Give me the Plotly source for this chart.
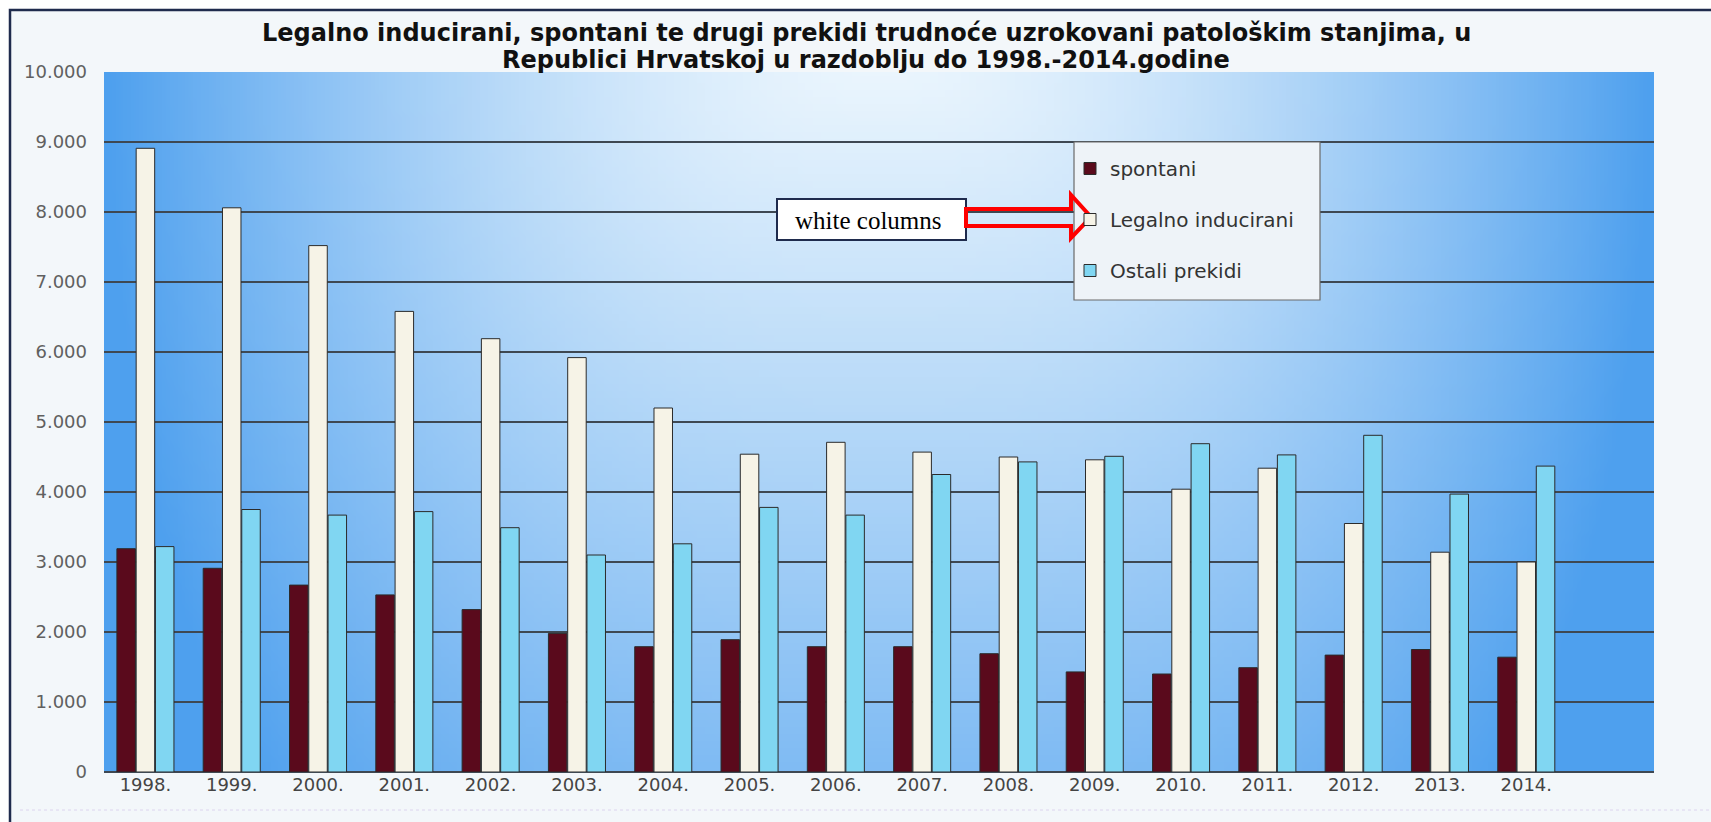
import base64
import struct
import zlib
import plotly.graph_objects as go

# ---------------- data ----------------
years = ["1998.", "1999.", "2000.", "2001.", "2002.", "2003.", "2004.", "2005.", "2006.",
         "2007.", "2008.", "2009.", "2010.", "2011.", "2012.", "2013.", "2014."]
spontani = [3190, 2910, 2670, 2530, 2320, 1980, 1790, 1890, 1790,
            1790, 1690, 1430, 1400, 1490, 1670, 1750, 1640]
legalno = [8910, 8060, 7520, 6580, 6190, 5920, 5200, 4540, 4710,
           4570, 4500, 4460, 4040, 4340, 3550, 3140, 3000]
ostali = [3220, 3750, 3670, 3720, 3490, 3100, 3260, 3780, 3670,
          4250, 4430, 4510, 4690, 4530, 4810, 3970, 4370]
series_names = ["spontani", "Legalno inducirani", "Ostali prekidi"]
title_lines = ["Legalno inducirani, spontani te drugi prekidi trudnoće uzrokovani patološkim stanjima, u",
               "Republici Hrvatskoj u razdoblju do 1998.-2014.godine"]
note_text = "white columns"

# ---------------- geometry helpers (pixel -> paper) ----------------
W, H = 1711, 822
PL, PR, PT, PB = 104, 1654, 72, 772


def px(x):
    return (x - PL) / (PR - PL)


def py(y):
    return (PB - y) / (PB - PT)


# ---------------- gradient background image ----------------
def gradient_uri(w=200, h=100):
    light = (234, 245, 253)
    dark = (78, 160, 238)
    rows = []
    for j in range(h):
        v = j / (h - 1)
        row = bytearray([0])
        for i in range(w):
            u = abs(i / (w - 1) - 0.5) / 0.5
            t = min(1.0, ((u ** 1.6) ** 2 + (0.68 * v) ** 2) ** 0.5)
            row += bytes(int(round(light[k] + (dark[k] - light[k]) * t)) for k in range(3))
        rows.append(bytes(row))
    raw = b"".join(rows)

    def chunk(tag, data):
        return (struct.pack(">I", len(data)) + tag + data +
                struct.pack(">I", zlib.crc32(tag + data) & 0xffffffff))

    png = (b"\x89PNG\r\n\x1a\n" +
           chunk(b"IHDR", struct.pack(">IIBBBBB", w, h, 8, 2, 0, 0, 0)) +
           chunk(b"IDAT", zlib.compress(raw, 9)) +
           chunk(b"IEND", b""))
    return "data:image/png;base64," + base64.b64encode(png).decode()


# ---------------- figure ----------------
colors = ["#5a0a1c", "#f6f3e7", "#80d6f2"]
values = [spontani, legalno, ostali]

fig = go.Figure()
for name, vals, col in zip(series_names, values, colors):
    fig.add_trace(go.Bar(
        x=years, y=vals, name=name, legendgroup=name,
        marker=dict(color=col, line=dict(color="#2b2b2b", width=1)),
    ))

font_sans = "DejaVu Sans"

fig.update_layout(
    width=W, height=H,
    margin=dict(l=PL, r=W - PR, t=PT, b=H - PB, pad=0),
    paper_bgcolor="#f3f7fa",
    plot_bgcolor="rgba(0,0,0,0)",
    separators=",.",
    barmode="group",
    bargap=0.33,
    bargroupgap=0.04,
    showlegend=True,
    legend=dict(
        x=px(1070), y=py(149), xanchor="left", yanchor="top",
        bgcolor="rgba(0,0,0,0)", borderwidth=0,
        font=dict(family=font_sans, size=20, color="#333333"),
        traceorder="grouped", tracegroupgap=22,
    ),
    xaxis=dict(
        type="category", range=[-0.48, 17.48],
        showgrid=False, showline=False, zeroline=False, ticks="",
        tickfont=dict(family=font_sans, size=18, color="#444444"),
        ticklabelstandoff=0,
    ),
    yaxis=dict(
        range=[0, 10000], dtick=1000, tickformat=",d",
        showgrid=True, gridcolor="#3e4852", gridwidth=1.5,
        zeroline=True, zerolinecolor="#3e4852", zerolinewidth=2,
        showline=False, ticks="",
        tickfont=dict(family=font_sans, size=18, color="#606060"),
        ticklabelstandoff=16,
    ),
)

# gradient plot background
fig.add_layout_image(dict(
    source=gradient_uri(), xref="paper", yref="paper",
    x=0, y=1, sizex=1, sizey=1, xanchor="left", yanchor="top",
    sizing="stretch", layer="below",
))

shapes = []
# white strips outside the navy frame
shapes.append(dict(type="rect", xref="paper", yref="paper", layer="below",
                   x0=px(-5), x1=px(W + 5), y0=py(9), y1=py(-5),
                   fillcolor="white", line=dict(width=0)))
shapes.append(dict(type="rect", xref="paper", yref="paper", layer="below",
                   x0=px(-5), x1=px(10), y0=py(H + 5), y1=py(-5),
                   fillcolor="white", line=dict(width=0)))
# navy frame
shapes.append(dict(type="rect", xref="paper", yref="paper", layer="above",
                   x0=px(10), x1=px(W + 20), y0=py(H + 20), y1=py(10),
                   fillcolor="rgba(0,0,0,0)", line=dict(color="#1f2b4d", width=2.5)))
# faint dotted line near bottom
shapes.append(dict(type="line", xref="paper", yref="paper", layer="above",
                   x0=px(20), x1=px(W), y0=py(810), y1=py(810),
                   line=dict(color="#dcd4ee", width=1, dash="dot")))
# legend box
shapes.append(dict(type="rect", xref="paper", yref="paper", layer="above",
                   x0=px(1074), x1=px(1320), y0=py(300), y1=py(142),
                   fillcolor="#eef3f8", line=dict(color="#6a6a6a", width=1.2)))
# note box
shapes.append(dict(type="rect", xref="paper", yref="paper", layer="above",
                   x0=px(777), x1=px(966), y0=py(240), y1=py(199),
                   fillcolor="white", line=dict(color="#1f2b4d", width=2)))
# hollow red arrow
pts = [(966, 209), (1071, 209), (1071, 195), (1091, 217), (1071, 238), (1071, 226), (966, 226)]
path = "M " + " L ".join(f"{px(x):.5f},{py(y):.5f}" for x, y in pts) + " Z"
shapes.append(dict(type="path", xref="paper", yref="paper", layer="above", path=path,
                   fillcolor="rgba(0,0,0,0)", line=dict(color="#ff0000", width=4)))
fig.update_layout(shapes=shapes)

annotations = [
    dict(text=f"<b>{title_lines[0]}</b>", xref="paper", yref="paper",
         x=px(866), y=py(33), xanchor="center", yanchor="middle", showarrow=False,
         font=dict(family=font_sans, size=24, color="#111111")),
    dict(text=f"<b>{title_lines[1]}</b>", xref="paper", yref="paper",
         x=px(866), y=py(60), xanchor="center", yanchor="middle", showarrow=False,
         font=dict(family=font_sans, size=24, color="#111111")),
    dict(text=note_text, xref="paper", yref="paper",
         x=px(793), y=py(220), xanchor="left", yanchor="middle", showarrow=False,
         font=dict(family="Liberation Serif", size=25, color="#000000")),
]
fig.update_layout(annotations=annotations)

fig.write_html("out.html", config={"displayModeBar": False},
               post_script="document.body.style.margin='0';")
